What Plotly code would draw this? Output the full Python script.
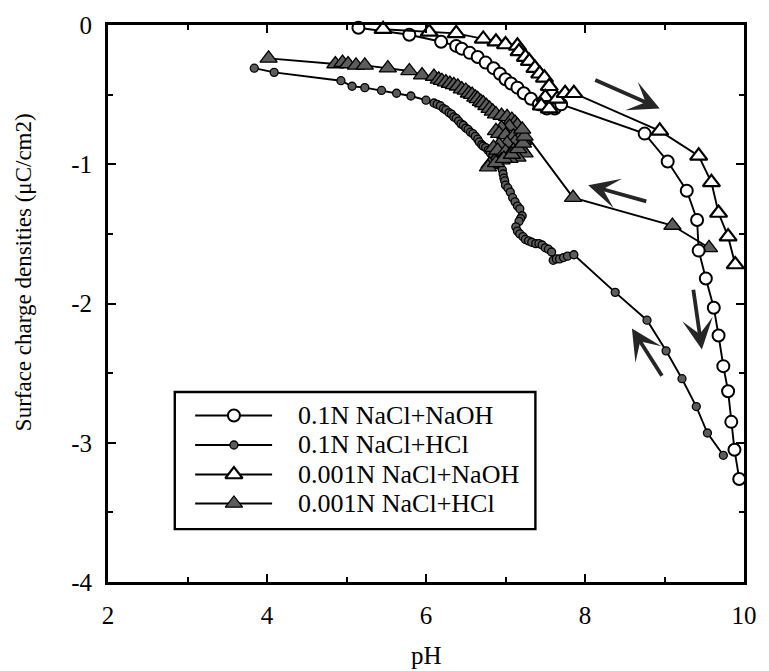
import plotly.graph_objects as go

# 0.1N NaCl + NaOH (open circles)
ph_a = [5.15, 5.79, 6.19, 6.38, 6.45, 6.55, 6.65, 6.75, 6.85, 6.93, 7.0, 7.07, 7.15, 7.23,
        7.32, 7.42, 7.52, 7.62, 7.70, 8.75, 9.04, 9.28, 9.41, 9.43, 9.52, 9.62, 9.68, 9.74,
        9.80, 9.84, 9.88, 9.94]
sig_a = [-0.02, -0.07, -0.12, -0.15, -0.17, -0.20, -0.23, -0.27, -0.31, -0.35, -0.39, -0.42,
         -0.45, -0.49, -0.53, -0.57, -0.60, -0.60, -0.57, -0.78, -0.98, -1.19, -1.40, -1.62,
         -1.82, -2.03, -2.23, -2.45, -2.63, -2.85, -3.05, -3.26]

# 0.1N NaCl + HCl (small filled circles)
ph_b = [3.84, 4.09, 4.93, 5.07, 5.23, 5.44, 5.63, 5.81, 6.0, 6.1, 6.14, 6.18, 6.22, 6.25,
        6.29, 6.32, 6.35, 6.38, 6.41, 6.44, 6.47, 6.5, 6.53, 6.56, 6.59, 6.62, 6.65, 6.67,
        6.7, 6.72, 6.75, 6.78, 6.81, 6.84, 6.87, 6.9, 6.93, 6.96, 6.97, 6.98, 6.99, 7.0,
        7.03, 7.06, 7.09, 7.12, 7.15, 7.18, 7.21, 7.19, 7.17, 7.13, 7.15, 7.18, 7.22, 7.25,
        7.29, 7.33, 7.38, 7.42, 7.46, 7.5, 7.54, 7.58, 7.6, 7.64, 7.68, 7.73, 7.78, 7.86,
        8.38, 8.78, 9.02, 9.22, 9.40, 9.54, 9.74]
sig_b = [-0.31, -0.34, -0.40, -0.44, -0.45, -0.47, -0.49, -0.51, -0.54, -0.56, -0.57, -0.58,
         -0.60, -0.61, -0.63, -0.64, -0.66, -0.67, -0.69, -0.71, -0.72, -0.74, -0.75, -0.77,
         -0.78, -0.80, -0.82, -0.84, -0.86, -0.87, -0.88, -0.90, -0.92, -0.94, -0.96, -0.98,
         -1.01, -1.04, -1.07, -1.10, -1.12, -1.15, -1.17, -1.20, -1.24, -1.27, -1.30, -1.32,
         -1.37, -1.39, -1.41, -1.45, -1.48, -1.50, -1.52, -1.54, -1.55, -1.56, -1.57, -1.57,
         -1.58, -1.60, -1.61, -1.63, -1.69, -1.68, -1.68, -1.67, -1.66, -1.65, -1.92, -2.12,
         -2.34, -2.54, -2.74, -2.93, -3.09]

# 0.001N NaCl + NaOH (open triangles)
ph_c = [5.46, 6.04, 6.38, 6.72, 6.88, 7.0, 7.15, 7.17, 7.25, 7.30, 7.37, 7.43, 7.49, 7.55,
        7.50, 7.45, 7.55, 7.65, 7.75, 7.86, 8.94, 9.43, 9.59, 9.68, 9.80, 9.89]
sig_c = [-0.03, -0.05, -0.06, -0.10, -0.12, -0.14, -0.15, -0.19, -0.23, -0.26, -0.31, -0.35,
         -0.38, -0.44, -0.52, -0.58, -0.60, -0.53, -0.49, -0.49, -0.76, -0.94, -1.13, -1.35,
         -1.52, -1.72]

# 0.001N NaCl + HCl (filled triangles)
ph_d = [4.02, 4.86, 4.95, 5.02, 5.12, 5.23, 5.52, 5.79, 5.95, 6.1, 6.16, 6.2, 6.25, 6.3,
        6.35, 6.4, 6.45, 6.5, 6.54, 6.58, 6.62, 6.65, 6.69, 6.72, 6.76, 6.8, 6.84, 6.88,
        6.95, 7.02, 7.08, 7.12, 7.15, 7.05, 6.95, 6.88, 6.92, 7.0, 7.1, 7.18, 7.22, 7.12,
        7.02, 6.92, 6.85, 6.9, 7.0, 7.1, 7.2, 7.24, 7.15, 7.05, 6.95, 6.86, 6.8, 6.78, 6.88,
        6.98, 7.08, 7.16, 7.22, 7.24, 7.21, 7.85, 9.1, 9.56]
sig_d = [-0.24, -0.28, -0.27, -0.28, -0.29, -0.29, -0.31, -0.33, -0.36, -0.37, -0.39, -0.40,
         -0.41, -0.42, -0.43, -0.44, -0.46, -0.47, -0.49, -0.50, -0.52, -0.53, -0.55, -0.56,
         -0.58, -0.60, -0.62, -0.64, -0.65, -0.66, -0.68, -0.70, -0.72, -0.73, -0.74, -0.76,
         -0.78, -0.79, -0.80, -0.81, -0.83, -0.84, -0.85, -0.86, -0.88, -0.90, -0.91, -0.90,
         -0.89, -0.92, -0.95, -0.96, -0.97, -0.98, -1.00, -1.02, -0.99, -0.96, -0.93, -0.89,
         -0.85, -0.80, -0.75, -1.24, -1.44, -1.60]

series_names = ["0.1N NaCl+NaOH", "0.1N NaCl+HCl", "0.001N NaCl+NaOH", "0.001N NaCl+HCl"]

x_ticks = [2, 4, 6, 8, 10]
y_ticks = [0, -1, -2, -3, -4]
y_tick_text = ["0", "-1", "-2", "-3", "-4"]

# titration direction arrows: (tail pH, tail sigma, head pH, head sigma)
arrows = [
    (8.11, -0.39, 8.94, -0.60),
    (8.79, -1.27, 8.04, -1.15),
    (9.36, -1.89, 9.47, -2.33),
    (8.98, -2.53, 8.59, -2.18),
]

SERIF = "Liberation Serif, Times New Roman, serif"
GRAY = "#5c5c5c"

styles = [
    dict(symbol="circle", size=12, color="white", line=dict(color="black", width=2)),
    dict(symbol="circle", size=8, color=GRAY, line=dict(color="black", width=1.3)),
    dict(symbol="triangle-up", size=15, color="white", line=dict(color="black", width=2.2)),
    dict(symbol="triangle-up", size=15, color=GRAY, line=dict(color="black", width=1.3)),
]

fig = go.Figure()

data = [(ph_a, sig_a), (ph_b, sig_b), (ph_c, sig_c), (ph_d, sig_d)]
draw_order = [1, 3, 0, 2]
for i in draw_order:
    x, y = data[i]
    fig.add_trace(go.Scatter(
        x=x, y=y, mode="lines+markers", name=series_names[i],
        line=dict(color="black", width=1.9), marker=styles[i],
        cliponaxis=False, showlegend=False,
    ))

# legend drawn on an overlay axis spanning the plot area (0..1 both ways)
leg_rows = [0.299, 0.246, 0.193, 0.141]
for i, yy in enumerate(leg_rows):
    fig.add_trace(go.Scatter(
        x=[0.137, 0.258], y=[yy, yy], mode="lines", xaxis="x2", yaxis="y2",
        line=dict(color="black", width=1.9), showlegend=False, cliponaxis=False,
        hoverinfo="skip",
    ))
    fig.add_trace(go.Scatter(
        x=[0.198], y=[yy], mode="markers", xaxis="x2", yaxis="y2",
        marker=styles[i], showlegend=False, cliponaxis=False, hoverinfo="skip",
    ))
    fig.add_annotation(
        x=0.296, y=yy, xref="x2", yref="y2", text=series_names[i], showarrow=False,
        xanchor="left", yanchor="middle", font=dict(family=SERIF, size=26, color="black"),
    )

fig.add_shape(type="rect", xref="x2", yref="y2", x0=0.105, x1=0.672, y0=0.095, y1=0.341,
              line=dict(color="black", width=2.4), fillcolor="rgba(0,0,0,0)")

for x0, y0, x1, y1 in arrows:
    fig.add_annotation(
        x=x1, y=y1, ax=x0, ay=y0, xref="x", yref="y", axref="x", ayref="y",
        showarrow=True, arrowhead=3, arrowsize=1.35, arrowwidth=3.8, arrowcolor="#262626",
        text="", standoff=0, startstandoff=0,
    )

# axis titles
fig.add_annotation(x=0.5, y=-0.132, xref="paper", yref="paper", text="pH", showarrow=False,
                   xanchor="center", yanchor="middle",
                   font=dict(family=SERIF, size=25, color="black"))
fig.add_annotation(x=-0.133, y=0.557, xref="paper", yref="paper",
                   text="Surface charge densities (\u03bcC/cm2)", showarrow=False,
                   textangle=-90, xanchor="center", yanchor="middle",
                   font=dict(family=SERIF, size=23, color="black"))

axis_common = dict(
    showline=True, linecolor="black", linewidth=3, mirror="allticks",
    ticks="inside", ticklen=8, tickwidth=2, tickcolor="black",
    showgrid=False, zeroline=False,
    tickfont=dict(family=SERIF, size=25, color="black"),
)

fig.update_layout(
    width=769, height=671, autosize=False,
    margin=dict(l=108, r=13, t=13, b=89),
    paper_bgcolor="white", plot_bgcolor="white",
    showlegend=False,
    xaxis=dict(range=[2, 10], tickmode="array", tickvals=x_ticks,
               ticktext=[str(v) for v in x_ticks],
               minor=dict(tickvals=[3, 5, 7, 9], ticks="inside", ticklen=5, tickwidth=2,
                          tickcolor="black"),
               ticklabelstandoff=9, **axis_common),
    yaxis=dict(range=[-4, 0], tickmode="array", tickvals=y_ticks, ticktext=y_tick_text,
               minor=dict(tickvals=[-0.5, -1.5, -2.5, -3.5], ticks="inside", ticklen=5,
                          tickwidth=2, tickcolor="black"),
               ticklabelstandoff=8, **axis_common),
    xaxis2=dict(range=[0, 1], overlaying="x", anchor="y2", visible=False, fixedrange=True),
    yaxis2=dict(range=[0, 1], overlaying="y", anchor="x2", visible=False, fixedrange=True),
)

fig.write_html("out.html")
